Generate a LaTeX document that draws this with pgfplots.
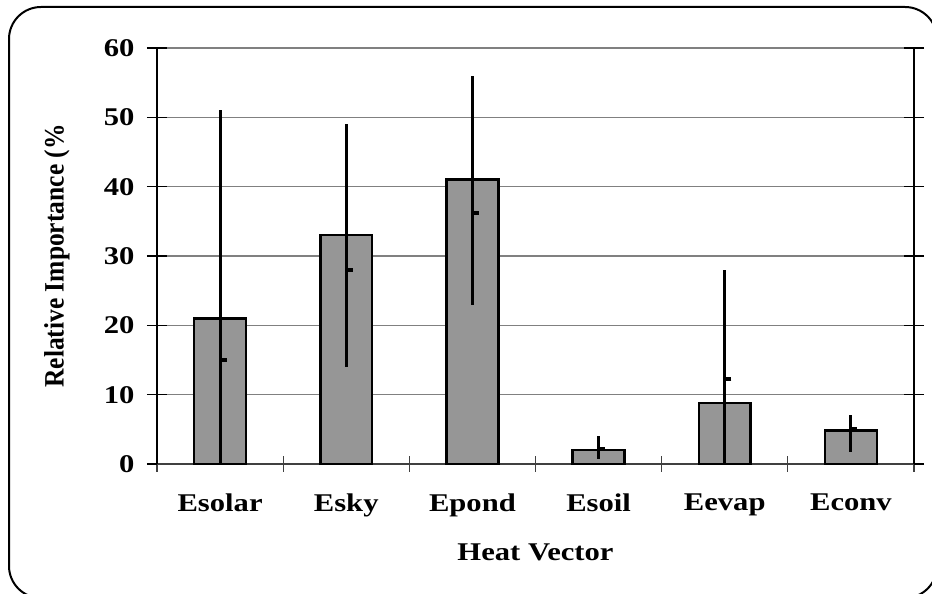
\documentclass[border=0pt]{standalone}
\usepackage{graphicx}
\usepackage{pgfplots}
\pgfplotsset{compat=1.18}
\usepackage{pgfplotstable}
\usepackage{fontspec}
\setmainfont{Liberation Serif}[FakeStretch=1.2]
\newfontfamily\ylabfont{Liberation Serif}
\definecolor{barfill}{RGB}{150,150,150}
\definecolor{gridgray}{RGB}{128,128,128}
\definecolor{xaxisgray}{RGB}{64,64,64}

\pgfplotstableread{
x   val  mean  lo   hi
0.5 21   15    0    51
1.5 33   28    14   49
2.5 41   36.2  23   56
3.5 2    2.1   0.7  4
4.5 8.8  12.2  0    28
5.5 4.8  5     1.8  7
}\datatable

\begin{document}
\begin{tikzpicture}
\path[use as bounding box] (0,0) rectangle (932bp,594bp);
\draw[line width=2bp, rounded corners=32bp] (9bp,587bp) rectangle (937bp,-4bp);
\begin{axis}[
  at={(157bp,130bp)}, anchor=south west,
  scale only axis, width=757bp, height=416bp,
  xmin=0, xmax=6, ymin=0, ymax=60,
  xtick={0,...,6}, x tick label as interval,
  xticklabels={Esolar,Esky,Epond,Esoil,Eevap,Econv},
  ytick={0,10,...,60},
  axis x line*=bottom, axis y line*=box,
  ytick pos=both,
  tick align=center,
  major tick length=20bp,
  xtick style={/pgfplots/major tick length=16bp, draw=xaxisgray, line width=1.2bp},
  ytick style={black, line width=1.5bp},
  x axis line style={draw=xaxisgray, line width=2.5bp},
  y axis line style={draw=black, line width=2bp},
  ymajorgrids,
  major grid style={draw=gridgray, line width=1.5bp},
  /pgf/number format/assume math mode=true,
  ticklabel style={font=\bfseries\fontsize{25.5bp}{30bp}\selectfont},
  xticklabel style={yshift=-16bp},
  yticklabel style={xshift=-9bp},
  xlabel={Heat Vector},
  ylabel={\ylabfont\scalebox{1}[1.1]{Relative Importance (\%}},
  label style={font=\bfseries\fontsize{25.5bp}{30bp}\selectfont},
  xlabel style={at={(axis description cs:0.5,-0.2115)}, anchor=center},
  ylabel style={at={(axis description cs:-0.1321,0.5)}, anchor=center},
  clip=false,
]
\addplot[ybar, bar width=0.41, fill=barfill, draw=black, line width=2.5bp]
  table[x=x, y=val] {\datatable};
\addplot[black, only marks, mark=-, mark size=3bp,
  mark options={xshift=3.5bp, line width=4bp},
  error bars/.cd, y dir=both, y explicit, error mark=none,
  error bar style={draw=black, solid, line width=3bp}]
  table[x=x, y=mean,
    y error plus expr=\thisrow{hi}-\thisrow{mean},
    y error minus expr=\thisrow{mean}-\thisrow{lo}] {\datatable};
\end{axis}
\end{tikzpicture}
\end{document}
